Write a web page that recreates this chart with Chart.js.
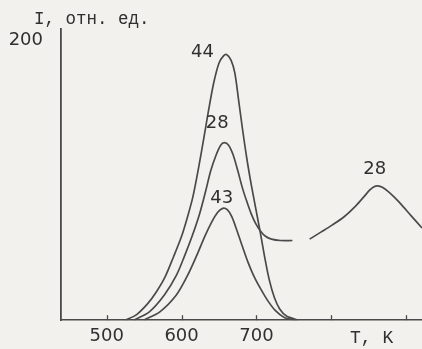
<!DOCTYPE html>
<html>
<head>
<meta charset="utf-8">
<script src="https://cdn.jsdelivr.net/npm/chart.js@4.4.1/dist/chart.umd.min.js"></script>
<style>
  html, body { margin: 0; padding: 0; background: #f2f1ee; }
  #wrap { width: 422px; height: 349px; position: relative; }
  canvas { display: block; }
</style>
</head>
<body>
<div id="wrap"><canvas id="c" width="422" height="349"></canvas></div>
<script>
// ---- data ----
const temps44 = [525, 540, 555, 566, 578, 589, 600, 608, 615, 622, 629, 636, 643, 650, 656, 660, 666, 671, 676, 681, 687, 693, 699, 705, 711, 717, 724, 731, 740, 756];
const vals44  = [0,   4,   12,  20,  31,  45,  60,  74,  88,  107, 128, 150, 170, 184, 189, 190, 186, 177, 158, 138, 116, 97,  80,  63,  45,  29,  16,  8,   3,   0];

const temps28 = [536, 557, 577, 593, 604, 614, 624, 632, 639, 646, 652, 657, 663, 669, 675, 681, 687, 693, 699, 705, 712, 720, 732, 748, 760, 771, 786, 801, 817, 833, 843, 851, 857, 862, 868, 876, 884, 892, 906, 921];
const vals28  = [0,   6,   18,  32,  46,  60,  76,  92,  107, 118, 125, 127, 125, 118, 107, 95,  85,  76,  69,  64,  60,  58,  57,  57,  null, 58, 63,  68,  74,  82,  88,  93,  95.5, 96, 95, 92,  88,  83.5, 75, 66];

const temps43 = [549, 571, 593, 608, 620, 631, 640, 648, 655, 661, 667, 674, 681, 689, 697, 706, 715, 725, 737, 752];
const vals43  = [0,   6,   18,  32,  46,  60,  70,  77,  80,  79,  74,  64,  53,  41,  31,  22,  14,  7,   2,   0];

const xTicks = [500, 600, 700, 800, 900];
const xTickLabels = ['500', '600', '700', '', ''];
const yTicks = [200];
const yTickLabels = ['200'];

const seriesNames = ['44', '28', '43'];
const yTitle = 'I, отн. ед.';
const xTitle = 'T, K';

const toPts = (ts, vs) => ts.map((t, i) => ({ x: t, y: vs[i] }));

const lineColor = '#4a4a4a';
const textColor = '#303030';

const labelPlugin = {
  id: 'labels',
  afterDatasetsDraw(chart) {
    const { ctx, scales: { x, y } } = chart;
    ctx.save();
    ctx.fillStyle = textColor;
    ctx.font = '18px "DejaVu Sans"';
    ctx.textAlign = 'center';
    ctx.textBaseline = 'middle';
    const placeAt = (t, v, dx, dy, txt) => {
      ctx.fillText(txt, x.getPixelForValue(t) + dx, y.getPixelForValue(v) + dy);
    };
    const peak = (ts, vs, from, to) => {
      let bi = -1;
      for (let i = 0; i < vs.length; i++) {
        if (vs[i] == null || ts[i] < from || ts[i] > to) continue;
        if (bi < 0 || vs[i] > vs[bi]) bi = i;
      }
      return [ts[bi], vs[bi]];
    };
    let p = peak(temps44, vals44, 0, 2000); placeAt(p[0], p[1], -24, -2, seriesNames[0]);
    p = peak(temps28, vals28, 0, 760); placeAt(p[0], p[1], -7, -19, seriesNames[1]);
    p = peak(temps43, vals43, 0, 2000); placeAt(p[0], p[1], -1, -10, seriesNames[2]);
    p = peak(temps28, vals28, 760, 2000); placeAt(p[0], p[1], -3, -17, seriesNames[1]);

    // x tick marks (pointing up into the plot)
    ctx.strokeStyle = lineColor;
    ctx.lineWidth = 1.3;
    const by = y.getPixelForValue(0);
    xTicks.forEach(t => {
      const px = Math.round(x.getPixelForValue(t)) + 0.5;
      ctx.beginPath(); ctx.moveTo(px, by); ctx.lineTo(px, by - 5); ctx.stroke();
    });

    // titles
    ctx.textAlign = 'left';
    ctx.font = '17.5px "Liberation Mono"';
    ctx.fillText(yTitle, 34, 19);
    ctx.font = '18px "Liberation Mono"';
    ctx.fillText(xTitle, 350, 338);
    ctx.restore();
  }
};

new Chart(document.getElementById('c'), {
  type: 'line',
  data: {
    datasets: [
      { label: '44', data: toPts(temps44, vals44) },
      { label: '28', data: toPts(temps28, vals28), spanGaps: false },
      { label: '43', data: toPts(temps43, vals43) }
    ].map(d => Object.assign({
      borderColor: lineColor, borderWidth: 1.7, pointRadius: 0,
      tension: 0.3, fill: false
    }, d))
  },
  options: {
    responsive: false,
    animation: false,
    layout: { padding: { top: 28, right: 0, left: 0, bottom: 0 } },
    plugins: { legend: { display: false }, tooltip: { enabled: false } },
    scales: {
      x: {
        type: 'linear', min: 439, max: 921,
        afterBuildTicks: s => { s.ticks = xTicks.map(v => ({ value: v })); },
        afterFit: s => { s.height = 23; },
        grid: { display: false, drawTicks: false },
        border: { display: true, color: lineColor, width: 1.6 },
        ticks: {
          padding: 5, color: textColor, maxRotation: 0, autoSkip: false,
          font: { family: 'DejaVu Sans', size: 18 },
          callback: (v) => { const i = xTicks.indexOf(v); return i >= 0 ? xTickLabels[i] : ''; }
        }
      },
      y: {
        type: 'linear', min: 0, max: 208.4,
        afterBuildTicks: s => { s.ticks = yTicks.map(v => ({ value: v })); },
        afterFit: s => { s.width = 61; },
        grid: { display: false, drawTicks: false },
        border: { display: true, color: lineColor, width: 1.8 },
        ticks: {
          padding: 18, color: textColor,
          font: { family: 'DejaVu Sans', size: 18 },
          callback: (v) => { const i = yTicks.indexOf(v); return i >= 0 ? yTickLabels[i] : ''; }
        }
      }
    }
  },
  plugins: [labelPlugin]
});
</script>
</body>
</html>
